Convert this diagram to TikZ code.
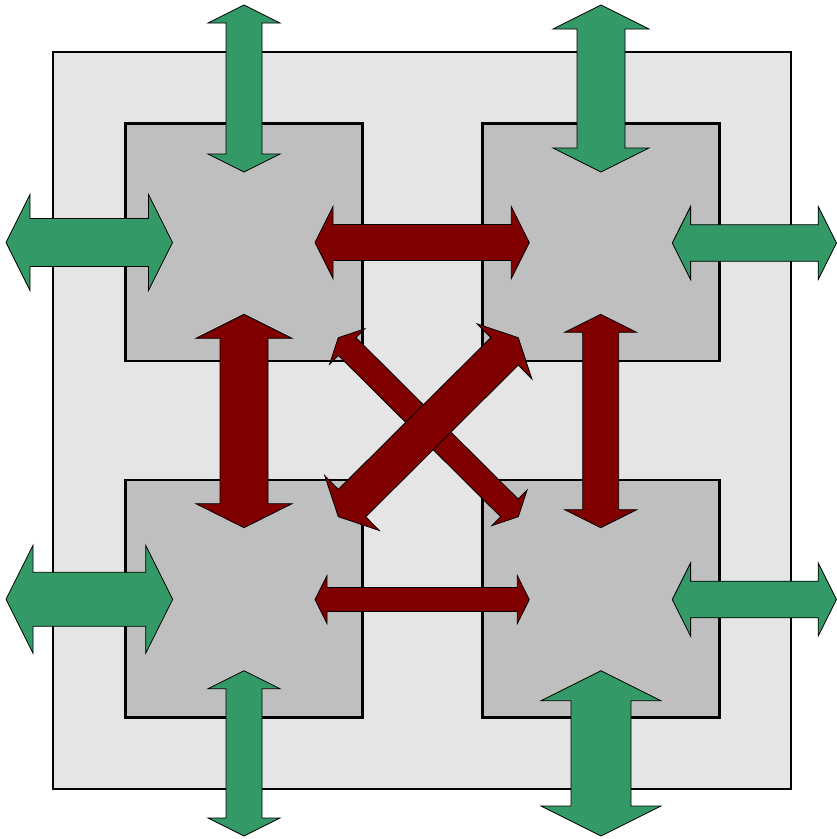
\documentclass[tikz,border=0pt]{standalone}
\usetikzlibrary{calc}
\definecolor{agreen}{RGB}{51,153,102}
\definecolor{ared}{RGB}{128,0,0}
\definecolor{outerfill}{RGB}{229,229,229}
\definecolor{innerfill}{RGB}{191,191,191}
\tikzset{
  box/.style={draw=black, line width=2.6pt, rectangle, inner sep=0pt},
  outerbox/.style={box, fill=outerfill, minimum width=738pt, minimum height=737pt},
  innerbox/.style={box, fill=innerfill, minimum width=237pt, minimum height=237.5pt},
  greenarr/.style={draw=black, line width=0.8pt, fill=agreen, line join=miter},
  redarr/.style={draw=black, line width=0.8pt, fill=ared, line join=miter}
}
% double arrow between two named coordinates, shaft half-width #4 (pt)
\newcommand\dblarr[4]{%
  \pgfmathsetmacro\arrw{#4}%
  \pgfmathsetmacro\arrh{2*#4}%
  \path[#1] (#2)
    -- ($(#2)!\arrw pt!(#3)!\arrh pt!90:(#3)$)
    -- ($(#2)!\arrw pt!(#3)!\arrw pt!90:(#3)$)
    -- ($(#3)!\arrw pt!(#2)!\arrw pt!-90:(#2)$)
    -- ($(#3)!\arrw pt!(#2)!\arrh pt!-90:(#2)$)
    -- (#3)
    -- ($(#3)!\arrw pt!(#2)!\arrh pt!90:(#2)$)
    -- ($(#3)!\arrw pt!(#2)!\arrw pt!90:(#2)$)
    -- ($(#2)!\arrw pt!(#3)!\arrw pt!-90:(#3)$)
    -- ($(#2)!\arrw pt!(#3)!\arrh pt!-90:(#3)$)
    -- cycle;%
}
\begin{document}
\begin{tikzpicture}[x=1pt, y=-1pt]
\useasboundingbox (0,0) rectangle (837,839);
% squares
\node[outerbox] (outer) at (422,420.5) {};
\node[innerbox] (tl) at (244,242.25) {};
\node[innerbox] (tr) at (601.25,242.25) {};
\node[innerbox] (bl) at (244,598.75) {};
\node[innerbox] (br) at (601.25,598.75) {};
% arrow end points
\coordinate (g1a) at (244,5);     \coordinate (g1b) at (244,172);
\coordinate (g2a) at (601,5);     \coordinate (g2b) at (601,172);
\coordinate (g3a) at (6,242.5);   \coordinate (g3b) at (172.5,242.5);
\coordinate (g4a) at (672.3,243); \coordinate (g4b) at (836.5,243);
\coordinate (g5a) at (6,599.3);   \coordinate (g5b) at (172.7,599.3);
\coordinate (g6a) at (672.3,599.5); \coordinate (g6b) at (836.5,599.5);
\coordinate (g7a) at (244,670.7); \coordinate (g7b) at (244,836);
\coordinate (g8a) at (601,670.7); \coordinate (g8b) at (601,836);
\coordinate (r1a) at (315,242.5); \coordinate (r1b) at (529.3,242.5);
\coordinate (r2a) at (244,314.3); \coordinate (r2b) at (244,527.7);
\coordinate (r3a) at (600.7,314.3); \coordinate (r3b) at (600.7,527.7);
\coordinate (r4a) at (315,599.5); \coordinate (r4b) at (529.3,599.5);
\coordinate (r5a) at (338.3,337.7); \coordinate (r5b) at (518.3,516.7);
\coordinate (r6a) at (338.3,516.7); \coordinate (r6b) at (518.3,337.7);
% green arrows
\dblarr{greenarr}{g1a}{g1b}{18}
\dblarr{greenarr}{g2a}{g2b}{24}
\dblarr{greenarr}{g3a}{g3b}{24}
\dblarr{greenarr}{g4a}{g4b}{18.3}
\dblarr{greenarr}{g5a}{g5b}{27}
\dblarr{greenarr}{g6a}{g6b}{18.3}
\dblarr{greenarr}{g7a}{g7b}{18}
\dblarr{greenarr}{g8a}{g8b}{30}
% red arrows
\dblarr{redarr}{r1a}{r1b}{18}
\dblarr{redarr}{r2a}{r2b}{24}
\dblarr{redarr}{r3a}{r3b}{18}
\dblarr{redarr}{r4a}{r4b}{12}
\dblarr{redarr}{r5a}{r5b}{12.5}
\dblarr{redarr}{r6a}{r6b}{19.4}
\end{tikzpicture}
\end{document}
